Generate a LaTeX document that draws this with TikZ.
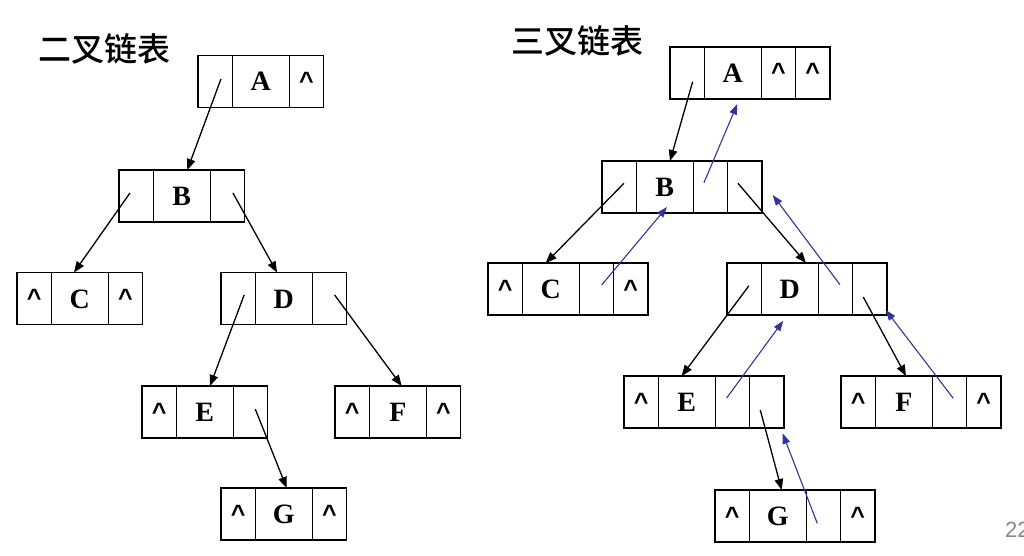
\documentclass[tikz,border=0pt]{standalone}
\usepackage{fontspec}
\setmainfont{Liberation Serif}
\newfontfamily\cjk{Noto Sans CJK SC Medium}
\newfontfamily\pgsans{Liberation Sans}
\usetikzlibrary{arrows.meta}
\definecolor{pblue}{RGB}{51,51,160}
\definecolor{pgray}{RGB}{136,136,136}
\tikzset{
  cellbase/.style={draw, line width=1.6pt, minimum height=52pt, inner sep=0pt, outer sep=0pt,
    text height=19pt, text depth=0pt, font=\bfseries\fontsize{28}{28}\selectfont},
  firstcell/.style={cellbase, minimum width=34.3pt, anchor=north west},
  datacell/.style={cellbase, minimum width=57pt, anchor=west},
  ptrcell/.style={cellbase, minimum width=34.3pt, anchor=west},
  blk/.style={line width=1.3pt, -{Triangle[length=11pt,width=8.5pt]}},
  blu/.style={line width=1.1pt, draw=pblue, -{Triangle[length=10.5pt,width=7.5pt]}},
  title/.style={font=\cjk\fontsize{33}{33}\selectfont, inner sep=0pt},
}
\newcommand{\nil}{\raisebox{1.5pt}{\pgsans\bfseries\fontsize{25}{25}\selectfont\textasciicircum}}
\begin{document}
\begin{tikzpicture}[x=1pt,y=-1pt]
\fill[white] (0,0) rectangle (1024,556);
\useasboundingbox (0,0) rectangle (1024,556);

% titles
\node[title] (t1) at (104,49) {二叉链表};
\node[title] (t2) at (577,41) {三叉链表};
\node[font=\pgsans\fontsize{22}{22}\selectfont, text=pgray, anchor=base west, inner sep=0pt] (pg) at (1005,537) {22};

% ===== binary linked list =====
\node[firstcell] (LA1) at (198,55.5) {};
\node[datacell] (LA2) at (LA1.east) {A};
\node[ptrcell] (LA3) at (LA2.east) {\nil};

\node[firstcell] (LB1) at (119,170) {};
\node[datacell] (LB2) at (LB1.east) {B};
\node[ptrcell] (LB3) at (LB2.east) {};

\node[firstcell] (LC1) at (17,272.5) {\nil};
\node[datacell] (LC2) at (LC1.east) {C};
\node[ptrcell] (LC3) at (LC2.east) {\nil};

\node[firstcell] (LD1) at (221,272.5) {};
\node[datacell] (LD2) at (LD1.east) {D};
\node[ptrcell] (LD3) at (LD2.east) {};

\node[firstcell] (LE1) at (142,386) {\nil};
\node[datacell] (LE2) at (LE1.east) {E};
\node[ptrcell] (LE3) at (LE2.east) {};

\node[firstcell] (LF1) at (335,386) {\nil};
\node[datacell] (LF2) at (LF1.east) {F};
\node[ptrcell] (LF3) at (LF2.east) {\nil};

\node[firstcell] (LG1) at (221,488) {\nil};
\node[datacell] (LG2) at (LG1.east) {G};
\node[ptrcell] (LG3) at (LG2.east) {\nil};

\draw[blk] ([shift={(5.8,-2.5)}]LA1.center) -- ([xshift=5.5pt]LB2.north);
\draw[blk] ([shift={(-6.2,-3)}]LB1.center) -- ([xshift=-5.8pt]LC2.north);
\draw[blk] ([shift={(5.5,-3)}]LB3.center) -- ([xshift=-6.8pt]LD2.north);
\draw[blk] ([shift={(6,-3.5)}]LD1.center) -- ([xshift=5.2pt]LE2.north);
\draw[blk] ([shift={(5.2,-3.5)}]LD3.center) -- ([xshift=3.9pt]LF2.north);
\draw[blk] ([shift={(4.8,-3)}]LE3.center) -- ([xshift=2.9pt]LG2.north);

% ===== trinary linked list =====
\node[firstcell] (RA1) at (670,47) {};
\node[datacell] (RA2) at (RA1.east) {A};
\node[ptrcell] (RA3) at (RA2.east) {\nil};
\node[ptrcell] (RA4) at (RA3.east) {\nil};

\node[firstcell] (RB1) at (602,161) {};
\node[datacell] (RB2) at (RB1.east) {B};
\node[ptrcell] (RB3) at (RB2.east) {};
\node[ptrcell] (RB4) at (RB3.east) {};

\node[firstcell] (RC1) at (488,263) {\nil};
\node[datacell] (RC2) at (RC1.east) {C};
\node[ptrcell] (RC3) at (RC2.east) {};
\node[ptrcell] (RC4) at (RC3.east) {\nil};

\node[firstcell] (RD1) at (727,263) {};
\node[datacell] (RD2) at (RD1.east) {D};
\node[ptrcell] (RD3) at (RD2.east) {};
\node[ptrcell] (RD4) at (RD3.east) {};

\node[firstcell] (RE1) at (624,376) {\nil};
\node[datacell] (RE2) at (RE1.east) {E};
\node[ptrcell] (RE3) at (RE2.east) {};
\node[ptrcell] (RE4) at (RE3.east) {};

\node[firstcell] (RF1) at (841,376) {\nil};
\node[datacell] (RF2) at (RF1.east) {F};
\node[ptrcell] (RF3) at (RF2.east) {};
\node[ptrcell] (RF4) at (RF3.east) {\nil};

\node[firstcell] (RG1) at (715,490) {\nil};
\node[datacell] (RG2) at (RG1.east) {G};
\node[ptrcell] (RG3) at (RG2.east) {};
\node[ptrcell] (RG4) at (RG3.east) {\nil};

% child pointers
\draw[blk] ([shift={(5.5,8.7)}]RA1.center) -- ([xshift=5.2pt]RB2.north);
\draw[blk] ([shift={(4.8,-3.7)}]RB1.center) -- ([xshift=-5.1pt]RC2.north);
\draw[blk] ([shift={(-6.8,-3.7)}]RB4.center) -- ([xshift=16.2pt]RD2.north);
\draw[blk] ([shift={(4.8,-3.3)}]RD1.center) -- ([xshift=-5.1pt]RE2.north);
\draw[blk] ([shift={(-6.5,8)}]RD4.center) -- ([xshift=2.2pt]RF2.north);
\draw[blk] ([shift={(-6.5,8)}]RE4.center) -- ([xshift=3.9pt]RG2.north);

% parent pointers
\draw[blu] ([shift={(-6.5,-4.3)}]RB3.center) -- ([shift={(4.5,5)}]RA2.south);
\draw[blu] ([shift={(5.2,-4)}]RC3.center) -- ([shift={(2.2,-6)}]RB2.south);
\draw[blu] ([shift={(4.5,-4.3)}]RD3.center) -- ([shift={(10.8,8)}]RB4.east);
\draw[blu] ([shift={(-5.8,-4)}]RE3.center) -- ([shift={(-6.5,5.7)}]RD2.south);
\draw[blu] ([shift={(3.8,-3.7)}]RF3.center) -- ([shift={(-1.2,-5)}]RD4.south east);
\draw[blu] ([shift={(-6.2,7.3)}]RG3.center) -- ([shift={(-1.3,5.3)}]RE4.south east);
\end{tikzpicture}
\end{document}
